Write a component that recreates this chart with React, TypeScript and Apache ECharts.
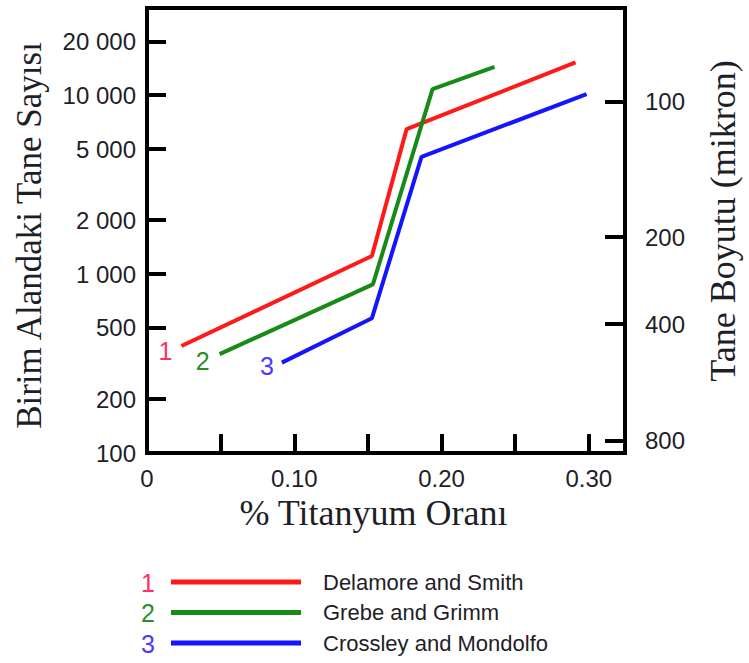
import React, { useEffect, useRef } from "react";
import * as echarts from "echarts";

// Series data: [Ti %, grains per unit area]
const seriesNames = ["Delamore and Smith", "Grebe and Grimm", "Crossley and Mondolfo"];
const seriesNumbers = ["1", "2", "3"];
const delamoreSmith: [number, number][] = [
  [0.0234, 396],
  [0.1527, 1261],
  [0.1763, 6457],
  [0.291, 15230],
];
const grebeGrimm: [number, number][] = [
  [0.0493, 357],
  [0.1534, 876],
  [0.1939, 10800],
  [0.236, 14390],
];
const crossleyMondolfo: [number, number][] = [
  [0.0916, 320],
  [0.1527, 566],
  [0.1864, 4521],
  [0.2985, 10130],
];

// Axis ticks
const xTickValues = [0.05, 0.1, 0.15, 0.2, 0.25, 0.3];
const xLabelValues = [0, 0.1, 0.2, 0.3];
const yTickValues = [200, 500, 1000, 2000, 5000, 10000, 20000];
const yLabelValues = [100, 200, 500, 1000, 2000, 5000, 10000, 20000];
// Grain size (micron) labels on the right axis, and where they sit on the count scale
const grainSizeLabels = ["100", "200", "400", "800"];
const grainSizeAtCount = [9170, 1610, 526, 117];

const lineColors = ["#ff1a1a", "#188a18", "#1414ff"];
const numberColors = ["#ff3060", "#2a8f2a", "#4a3cff"];

const SANS = "'Liberation Sans', Arial, sans-serif";
const SERIF = "'Liberation Serif', 'Times New Roman', serif";
const TXT = "#1e1e28";

const numberLabelStyle = [
  { distance: 9, offset: [0, 5] },
  { distance: 10, offset: [0, 7] },
  { distance: 8, offset: [0, 3] },
];

export default function App() {
  const ref = useRef<HTMLDivElement>(null);
  useEffect(() => {
    if (!ref.current) return;
    const chart = echarts.init(ref.current, null, { renderer: "svg" });
    const all = [delamoreSmith, grebeGrimm, crossleyMondolfo];
    const fmtThousands = (v: number) =>
      String(Math.round(v)).replace(/\B(?=(\d{3})+(?!\d))/g, " ");
    const option: any = {
      animation: false,
      grid: {
        left: 147,
        right: 121,
        top: 8,
        bottom: 210,
        show: true,
        borderColor: "#000",
        borderWidth: 4,
        backgroundColor: "transparent",
      },
      legend: {
        orient: "vertical",
        left: 171,
        top: 570,
        padding: 0,
        itemWidth: 130,
        itemHeight: 5,
        itemGap: 6.5,
        icon: "rect",
        data: seriesNames,
        textStyle: {
          fontFamily: SANS,
          fontSize: 22,
          color: TXT,
          lineHeight: 24,
          padding: [0, 0, 0, 17],
        },
      },
      xAxis: {
        type: "value",
        min: 0,
        max: 0.3246,
        name: "% Titanyum Oranı",
        nameLocation: "middle",
        nameGap: 42,
        nameTextStyle: {
          fontFamily: SERIF,
          fontSize: 36,
          color: TXT,
          padding: [0, 25, 0, 0],
        },
        splitLine: { show: false },
        axisLine: { lineStyle: { color: "#000", width: 4 } },
        axisTick: {
          inside: true,
          length: 19,
          customValues: xTickValues,
          lineStyle: { color: "#000", width: 4 },
        },
        axisLabel: {
          customValues: xLabelValues,
          margin: 13,
          fontFamily: SANS,
          fontSize: 24,
          color: TXT,
          formatter: (v: number) => (v === 0 ? "0" : v.toFixed(2)),
        },
      },
      yAxis: [
        {
          type: "log",
          min: 100,
          max: 30700,
          position: "left",
          name: "Birim Alandaki Tane Sayısı",
          nameLocation: "middle",
          nameGap: 100,
          nameTextStyle: {
            fontFamily: SERIF,
            fontSize: 35,
            color: TXT,
            padding: [0, 10, 0, 0],
          },
          splitLine: { show: false },
          axisLine: { show: true, lineStyle: { color: "#000", width: 4 } },
          axisTick: {
            inside: true,
            length: 19,
            customValues: yTickValues,
            lineStyle: { color: "#000", width: 4 },
          },
          axisLabel: {
            customValues: yLabelValues,
            margin: 11,
            fontFamily: SANS,
            fontSize: 24,
            color: TXT,
            formatter: (v: number) => fmtThousands(v),
          },
        },
        {
          type: "log",
          min: 100,
          max: 30700,
          position: "right",
          name: "Tane Boyutu (mikron)",
          nameLocation: "middle",
          nameGap: 80,
          nameTextStyle: {
            fontFamily: SERIF,
            fontSize: 36,
            color: TXT,
            padding: [0, 0, 0, 19],
          },
          splitLine: { show: false },
          axisLine: { show: true, lineStyle: { color: "#000", width: 4 } },
          axisTick: {
            inside: true,
            length: 20,
            customValues: grainSizeAtCount,
            lineStyle: { color: "#000", width: 4 },
          },
          axisLabel: {
            customValues: grainSizeAtCount,
            margin: 20,
            fontFamily: SANS,
            fontSize: 24,
            color: TXT,
            formatter: (v: number) => {
              let best = 0;
              let bd = Infinity;
              grainSizeAtCount.forEach((c, i) => {
                const d = Math.abs(Math.log(c) - Math.log(v));
                if (d < bd) {
                  bd = d;
                  best = i;
                }
              });
              return grainSizeLabels[best];
            },
          },
        },
      ],
      series: all.map((data, si) => ({
        name: seriesNames[si],
        type: "line",
        yAxisIndex: 0,
        showSymbol: true,
        symbol: "circle",
        symbolSize: 0,
        color: lineColors[si],
        lineStyle: { color: lineColors[si], width: 4 },
        itemStyle: { color: lineColors[si] },
        emphasis: { disabled: true },
        data: data.map((p, i) =>
          i === 0
            ? {
                value: p,
                label: {
                  show: true,
                  position: "left",
                  formatter: seriesNumbers[si],
                  fontFamily: SANS,
                  fontSize: 25,
                  color: numberColors[si],
                  distance: numberLabelStyle[si].distance,
                  offset: numberLabelStyle[si].offset,
                },
              }
            : p
        ),
      })),
      graphic: seriesNumbers.map((n, i) => ({
        type: "text",
        left: 141,
        top: 570 + i * 30.5,
        style: {
          text: n,
          fill: numberColors[i],
          font: `25px ${SANS}`,
        },
      })),
    };
    chart.setOption(option);
    return () => chart.dispose();
  }, []);
  return <div ref={ref} style={{ width: 749, height: 663, position: "absolute", left: 0, top: 0 }} />;
}
